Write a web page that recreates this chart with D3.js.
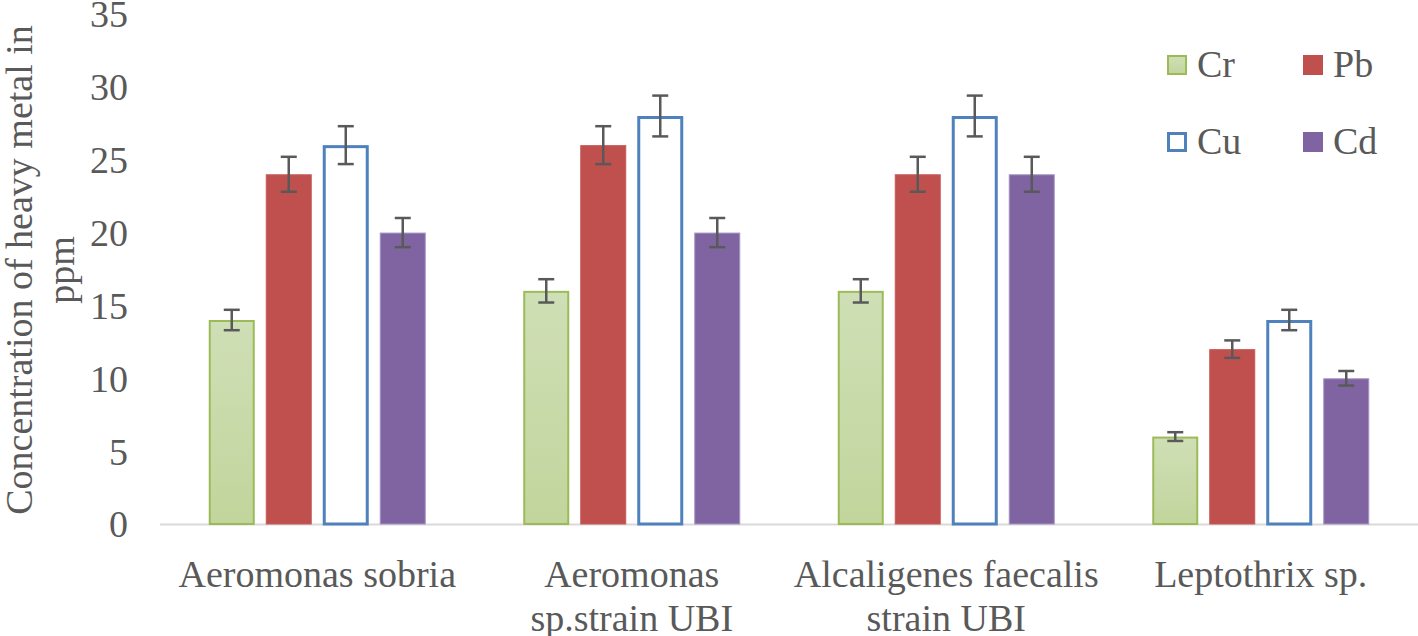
<!DOCTYPE html>
<html>
<head>
<meta charset="utf-8">
<script src="https://cdn.jsdelivr.net/npm/d3@7/dist/d3.min.js"></script>
<style>
html,body{margin:0;padding:0;background:#fff;}
svg{display:block;}
text{font-family:"Liberation Serif","Times New Roman",serif;fill:#595959;}
</style>
</head>
<body>
<svg id="chart" width="1418" height="636"></svg>
<script>
const categories = [["Aeromonas sobria"], ["Aeromonas", "sp.strain UBI"], ["Alcaligenes faecalis", "strain UBI"], ["Leptothrix sp."]];
const seriesNames = ["Cr", "Pb", "Cu", "Cd"];
const crValues = [14, 16, 16, 6];
const pbValues = [24, 26, 24, 12];
const cuValues = [26, 28, 28, 14];
const cdValues = [20, 20, 24, 10];
const crErr = [0.7, 0.8, 0.8, 0.3];
const pbErr = [1.2, 1.3, 1.2, 0.6];
const cuErr = [1.3, 1.4, 1.4, 0.7];
const cdErr = [1.0, 1.0, 1.2, 0.5];
const yTicks = [0, 5, 10, 15, 20, 25, 30, 35];

const values = [crValues, pbValues, cuValues, cdValues];
const errs = [crErr, pbErr, cuErr, cdErr];
const styles = [
  {fill: "url(#crGrad)", stroke: "#9bbb59", sw: 2},
  {fill: "#c0504d", stroke: "#c65a57", sw: 1},
  {fill: "#ffffff", stroke: "#4f81bd", sw: 3},
  {fill: "#8064a2", stroke: "#a593c0", sw: 1}
];

const svg = d3.select("#chart");
const defs = svg.append("defs");
const g1 = defs.append("linearGradient").attr("id", "crGrad").attr("x1", 0).attr("y1", 0).attr("x2", 0).attr("y2", 1);
g1.append("stop").attr("offset", "0%").attr("stop-color", "#cfdfb6");
g1.append("stop").attr("offset", "100%").attr("stop-color", "#c2d59c");

const x0 = d3.scaleBand().domain(d3.range(categories.length)).range([160, 1418]).paddingInner(0).paddingOuter(0);
const x1 = d3.scaleBand().domain(d3.range(seriesNames.length)).range([48.75, x0.bandwidth() - 48.75]).paddingInner(0.193).paddingOuter(0);
const y = d3.scaleLinear().domain([0, 35]).range([524, 14]);

// Y tick labels
const yAxis = d3.axisLeft(y).tickValues(yTicks).tickSize(0).tickPadding(0);
const ya = svg.append("g").attr("transform", "translate(128,0)").call(yAxis);
ya.select(".domain").remove();
ya.selectAll("text").style("font-size", "38px").style("font-family", "Liberation Serif").attr("fill", "#595959").attr("dy", "0.34em");

// baseline
svg.append("line").attr("x1", 160).attr("x2", 1418).attr("y1", y(0) + 0.5).attr("y2", y(0) + 0.5)
  .attr("stroke", "#d9d9d9").attr("stroke-width", 2);

// bars
seriesNames.forEach((s, si) => {
  const st = styles[si];
  const gs = svg.append("g");
  categories.forEach((c, ci) => {
    const v = values[si][ci];
    const bx = x0(ci) + x1(si);
    const bw = x1.bandwidth();
    const inset = st.sw / 2;
    gs.append("rect")
      .attr("x", bx + inset).attr("y", y(v) + inset)
      .attr("width", bw - st.sw).attr("height", y(0) - y(v) - inset)
      .attr("fill", st.fill).attr("stroke", st.stroke).attr("stroke-width", st.sw);
  });
});

// error bars
seriesNames.forEach((s, si) => {
  categories.forEach((c, ci) => {
    const v = values[si][ci], e = errs[si][ci];
    const cx = x0(ci) + x1(si) + x1.bandwidth() / 2;
    const ge = svg.append("g").attr("stroke", "#595959").attr("stroke-width", 2.5);
    ge.append("line").attr("x1", cx).attr("x2", cx).attr("y1", y(v + e)).attr("y2", y(v - e));
    ge.append("line").attr("x1", cx - 8).attr("x2", cx + 8).attr("y1", y(v + e)).attr("y2", y(v + e));
    ge.append("line").attr("x1", cx - 8).attr("x2", cx + 8).attr("y1", y(v - e)).attr("y2", y(v - e));
  });
});

// x labels
categories.forEach((lines, ci) => {
  const cx = x0(ci) + x0.bandwidth() / 2;
  const t = svg.append("text").attr("x", cx).attr("y", 587).attr("text-anchor", "middle").style("font-size", "38px");
  lines.forEach((ln, li) => {
    t.append("tspan").attr("x", cx).attr("dy", li === 0 ? 0 : 44).text(ln);
  });
});

// y title
const yt = svg.append("text").attr("transform", "translate(32,270) rotate(-90)").attr("text-anchor", "middle").style("font-size", "38px");
yt.append("tspan").attr("x", 0).attr("dy", 0).text("Concentration of heavy metal in");
yt.append("tspan").attr("x", 0).attr("dy", 42).text("ppm");

// legend
const legPos = [[1167, 55], [1303, 55], [1167, 132], [1303, 132]];
seriesNames.forEach((s, si) => {
  const st = styles[si];
  const [lx, ly] = legPos[si];
  const sw = si === 0 ? 2 : (si === 2 ? 3 : 0);
  svg.append("rect").attr("x", lx + sw / 2).attr("y", ly + sw / 2).attr("width", 20 - sw).attr("height", 20 - sw)
    .attr("fill", st.fill).attr("stroke", sw ? st.stroke : "none").attr("stroke-width", sw);
  svg.append("text").attr("x", lx + 30).attr("y", ly + 22).style("font-size", "38px").text(s);
});
</script>
</body>
</html>
